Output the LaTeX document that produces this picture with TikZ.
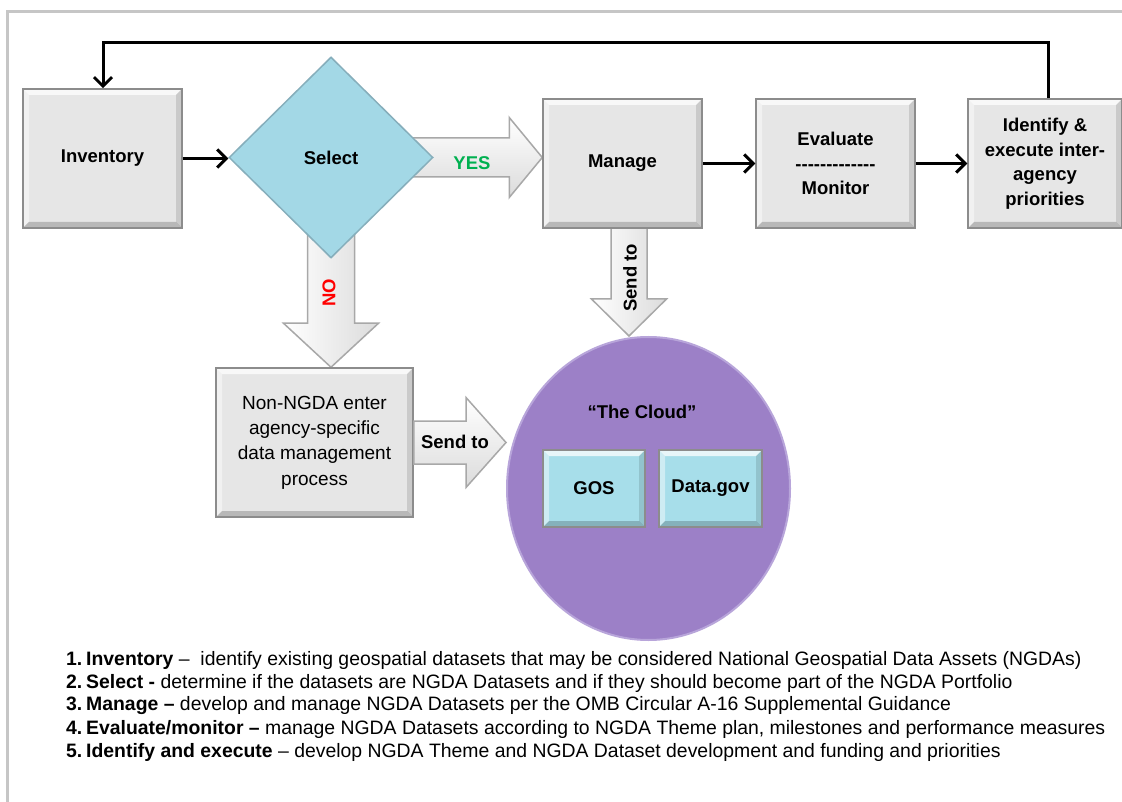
\documentclass[tikz,border=0pt]{standalone}
\usepackage{fontspec}
\setmainfont{Liberation Sans}
\usetikzlibrary{shapes.geometric,arrows.meta,calc}
\pgfdeclarelayer{back}
\pgfdeclarelayer{bg}
\pgfsetlayers{back,bg,main}
\definecolor{boxgray}{HTML}{E6E6E6}
\definecolor{boxline}{HTML}{8C8C8C}
\definecolor{selblue}{HTML}{A3D8E6}
\definecolor{selline}{HTML}{86AEBB}
\definecolor{gosblue}{HTML}{A7DEEA}
\definecolor{cloudfill}{HTML}{9C80C7}
\definecolor{cloudrim}{HTML}{B8A5DA}
\definecolor{framegray}{HTML}{C6C6C6}
\definecolor{yesgreen}{HTML}{00B050}
\definecolor{arrowline}{HTML}{A8A8A8}
\newcommand{\blkR}[5]{%
 \draw[blk, top color=white, bottom color=black!14] ($(#1)+(0,#3)$) -- ($(#2)+(-#5,#3)$) -- ($(#2)+(-#5,#4)$) -- (#2) -- ($(#2)+(-#5,-#4)$) -- ($(#2)+(-#5,-#3)$) -- ($(#1)+(0,-#3)$) -- cycle;}
\newcommand{\blkD}[5]{%
 \draw[blk, left color=white, right color=black!14] ($(#1)+(-#3,0)$) -- ($(#2)+(-#3,-#5)$) -- ($(#2)+(-#4,-#5)$) -- (#2) -- ($(#2)+(#4,-#5)$) -- ($(#2)+(#3,-#5)$) -- ($(#1)+(#3,0)$) -- cycle;}
\tikzset{
 bevel/.style={path picture={%
  \fill[white,opacity=.75] (path picture bounding box.north west) -- (path picture bounding box.north east) -- ([shift={(-6pt,-6pt)}]path picture bounding box.north east) -- ([shift={(6pt,-6pt)}]path picture bounding box.north west) -- cycle;
  \fill[white,opacity=.45] (path picture bounding box.north west) -- ([shift={(6pt,-6pt)}]path picture bounding box.north west) -- ([shift={(6pt,6pt)}]path picture bounding box.south west) -- (path picture bounding box.south west) -- cycle;
  \fill[black,opacity=.12] (path picture bounding box.north east) -- ([shift={(-6pt,-6pt)}]path picture bounding box.north east) -- ([shift={(-6pt,6pt)}]path picture bounding box.south east) -- (path picture bounding box.south east) -- cycle;
  \fill[black,opacity=.2] (path picture bounding box.south west) -- ([shift={(6pt,6pt)}]path picture bounding box.south west) -- ([shift={(-6pt,6pt)}]path picture bounding box.south east) -- (path picture bounding box.south east) -- cycle;
 }},
 graybox/.style={rectangle, draw=boxline, line width=1.5pt, fill=boxgray, bevel, inner sep=0pt, align=center,
   font=\fontsize{18.5}{24.5}\selectfont\bfseries},
 bluebox/.style={graybox, fill=gosblue},
 blk/.style={draw=arrowline, line width=1.5pt, line join=miter},
 conn/.style={draw=black, line width=3pt, -{Straight Barb[length=9pt,width=18pt]}},
 lbl/.style={inner sep=0pt, font=\fontsize{18.5}{22}\selectfont\bfseries},
 listtxt/.style={inner sep=0pt, anchor=west, font=\fontsize{19.4}{23}\selectfont},
}
\begin{document}
\begin{tikzpicture}[x=1pt,y=-1pt]
\useasboundingbox (0,0) rectangle (1122,802);
\begin{pgfonlayer}{back}
\fill[white] (0,0) rectangle (1122,802);
\end{pgfonlayer}
\draw[framegray, line width=3pt] (1122,12) -- (7,12) -- (7,802);

% main nodes
\node[graybox, minimum width=159pt, minimum height=139pt] (inv) at (102.5,158.5) {Inventory};
\node[diamond, aspect=1, draw=selline, line width=1.5pt, fill=selblue, inner sep=0pt,
      minimum width=204pt, minimum height=201pt, font=\fontsize{18.5}{22}\selectfont\bfseries] (sel) at (331,157.5) {Select};
\node[graybox, minimum width=159pt, minimum height=129pt] (man) at (622.5,163.5) {Manage};
\node[graybox, minimum width=159pt, minimum height=129pt] (eva) at (835.5,163.5) {Evaluate\\{-}{-}{-}{-}{-}{-}{-}{-}{-}{-}{-}{-}{-}\\Monitor};
\node[graybox, minimum width=154pt, minimum height=129pt] (idf) at (1045,163.5) {Identify \&\\execute inter-\\agency\\priorities};
\node[graybox, minimum width=197pt, minimum height=149pt, font=\fontsize{19}{25.3}\selectfont] (non) at (314.5,442.5) {Non-NGDA enter\\agency-specific\\data management\\process};
\node[ellipse, draw=cloudrim, line width=2pt, fill=cloudfill, minimum width=283pt, minimum height=303pt, inner sep=0pt] (cloud) at (648.5,488.5) {};
\node[lbl] (cloudlbl) at (642,412) {“The Cloud”};
\node[bluebox, minimum width=102pt, minimum height=77pt] (gos) at (594,488.5) {GOS};
\node[bluebox, minimum width=103pt, minimum height=77pt] (dgov) at (710.5,488.5) {Data.gov};

% block arrows
\coordinate (yesTip) at (sel.center -| man.west);
\coordinate (noTip) at (sel.center |- non.north);
\coordinate (sdStart) at ($(man.center)+(6.5,0)$);
\coordinate (sdTip) at (sdStart |- cloud.north);
\coordinate (srTip) at (non.center -| cloud.west);
\begin{pgfonlayer}{bg}
\blkR{sel.center}{yesTip}{19.5}{40}{33}
\blkD{sel.center}{noTip}{23.5}{47.5}{44}
\blkD{sdStart}{sdTip}{18}{37.5}{37}
\end{pgfonlayer}
\blkR{non.east}{srTip}{21.5}{45}{40}

\node[lbl, text=yesgreen] (yes) at (472,163) {YES};
\node[lbl, text=red, rotate=90] (no) at (329,293) {NO};
\node[lbl, rotate=90] (sendd) at (630,278) {Send to};
\node[lbl] (sendr) at (455,442) {Send to};

% connectors
\draw[conn] (inv.east) -- (inv.east -| sel.west);
\draw[conn] (man.east) -- (eva.west);
\draw[conn] (eva.east) -- (idf.west);
\coordinate (fbR) at (1048,43);
\coordinate (fbL) at (103,43);
\draw[conn] (idf.north -| fbR) -- (fbR) -- (fbL) -- (inv.north -| fbL);

% list
\node[listtxt] (l1) at (66,660) {\makebox[20pt][l]{\bfseries 1.}\textbf{Inventory} –\ \ identify existing geospatial datasets that may be considered National Geospatial Data Assets (NGDAs)};
\node[listtxt] (l2) at (66,683) {\makebox[20pt][l]{\bfseries 2.}\textbf{Select -} determine if the datasets are NGDA Datasets and if they should become part of the NGDA Portfolio};
\node[listtxt] (l3) at (66,706) {\makebox[20pt][l]{\bfseries 3.}\textbf{Manage –} develop and manage NGDA Datasets per the OMB Circular A-16 Supplemental Guidance};
\node[listtxt] (l4) at (66,729) {\makebox[20pt][l]{\bfseries 4.}\textbf{Evaluate/monitor –} manage NGDA Datasets according to NGDA Theme plan, milestones and performance measures};
\node[listtxt] (l5) at (66,752) {\makebox[20pt][l]{\bfseries 5.}\textbf{Identify and execute} – develop NGDA Theme and NGDA Dataset development and funding and priorities};
\end{tikzpicture}
\end{document}
